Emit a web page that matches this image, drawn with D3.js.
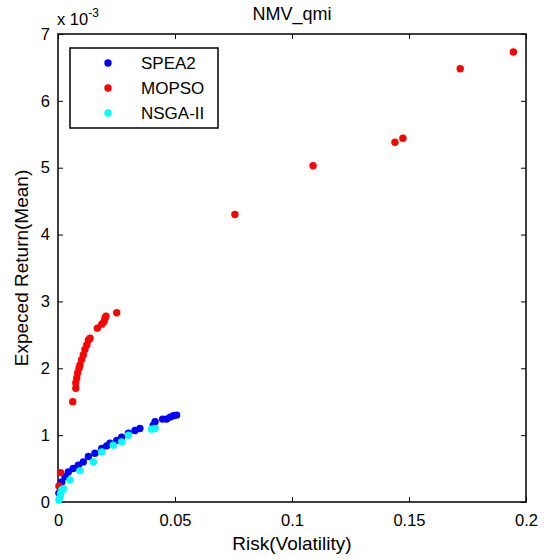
<!DOCTYPE html>
<html>
<head>
<meta charset="utf-8">
<script src="https://cdn.jsdelivr.net/npm/d3@7"></script>
<style>
  html, body { margin: 0; padding: 0; background: #fff; overflow: hidden; }
  svg { display: block; }
  text { font-family: "Liberation Sans", Arial, sans-serif; fill: #000; }
</style>
</head>
<body>
<svg></svg>
<script>
const w = 544
const h = 559

// data (risk, return*1e3)
const spea2X = [0.0004, 0.0009, 0.0016, 0.0030, 0.0044, 0.0065, 0.0087, 0.0108, 0.0130, 0.0158, 0.0187, 0.0208, 0.0222, 0.0251, 0.0272, 0.0301, 0.0329, 0.0350, 0.0407, 0.0415, 0.0447, 0.0464, 0.0479, 0.0493, 0.0507]
const spea2Y = [0.13, 0.23, 0.30, 0.38, 0.45, 0.50, 0.55, 0.60, 0.68, 0.73, 0.80, 0.84, 0.88, 0.92, 0.97, 1.03, 1.07, 1.10, 1.15, 1.20, 1.24, 1.24, 1.27, 1.29, 1.30]
const mopsoX = [0.0004, 0.0011, 0.0063, 0.0076, 0.0076, 0.0080, 0.0084, 0.0090, 0.0094, 0.0101, 0.0108, 0.0115, 0.0123, 0.0130, 0.0137, 0.0168, 0.0187, 0.0197, 0.0201, 0.0205, 0.0251, 0.0756, 0.1090, 0.1440, 0.1474, 0.1719, 0.1946]
const mopsoY = [0.24, 0.44, 1.50, 1.70, 1.78, 1.85, 1.93, 2.00, 2.05, 2.13, 2.20, 2.28, 2.35, 2.42, 2.45, 2.60, 2.66, 2.70, 2.75, 2.78, 2.83, 4.30, 5.03, 5.38, 5.44, 6.48, 6.73]
const nsgaX = [0.0004, 0.0009, 0.0011, 0.0016, 0.0023, 0.0051, 0.0094, 0.0151, 0.0187, 0.0236, 0.0272, 0.0301, 0.0400, 0.0415]
const nsgaY = [0.03, 0.08, 0.13, 0.18, 0.20, 0.33, 0.47, 0.60, 0.75, 0.85, 0.90, 1.00, 1.09, 1.10]

const xTicks = [0, 0.05, 0.1, 0.15, 0.2]
const yTicks = [0, 1, 2, 3, 4, 5, 6, 7]

const series = [
  { name: 'SPEA2', color: '#0000ff', xs: spea2X, ys: spea2Y },
  { name: 'MOPSO', color: '#ff0000', xs: mopsoX, ys: mopsoY },
  { name: 'NSGA-II', color: '#00ffff', xs: nsgaX, ys: nsgaY }
]

const svg = d3.select('svg')
  .attr('width', w)
  .attr('height', h);

const margin = { top: 34, right: 18, bottom: 57, left: 58 };
const innerWidth = w - margin.left - margin.right;
const innerHeight = h - margin.top - margin.bottom;

const xScale = d3.scaleLinear()
  .domain([0, 0.2])
  .range([0, innerWidth])

const yScale = d3.scaleLinear()
  .domain([0, 7])
  .range([innerHeight, 0])

const g = svg.append('g')
  .attr('transform', `translate(${margin.left}, ${margin.top})`);

// frame
g.append('rect')
  .attr('width', innerWidth)
  .attr('height', innerHeight)
  .attr('fill', 'none')
  .attr('stroke', '#000')
  .attr('stroke-width', 1.5)

const styleAxis = sel => {
  sel.select('.domain').remove()
  sel.selectAll('line').attr('stroke', '#000')
  sel.selectAll('text').attr('font-size', 16.5)
}

// bottom & left axes, ticks inward
g.append('g')
  .attr('transform', `translate(0, ${innerHeight})`)
  .call(d3.axisBottom(xScale).tickValues(xTicks).tickSizeInner(-5).tickSizeOuter(0).tickPadding(12).tickFormat(d3.format('')))
  .call(styleAxis)

g.append('g')
  .call(d3.axisLeft(yScale).tickValues(yTicks).tickSizeInner(-5).tickSizeOuter(0).tickPadding(8).tickFormat(d3.format('d')))
  .call(styleAxis)

// top & right ticks, no labels
g.append('g')
  .call(d3.axisTop(xScale).tickValues(xTicks).tickSizeInner(-5).tickSizeOuter(0))
  .call(styleAxis)
  .call(a => a.selectAll('text').remove())

g.append('g')
  .attr('transform', `translate(${innerWidth}, 0)`)
  .call(d3.axisRight(yScale).tickValues(yTicks).tickSizeInner(-5).tickSizeOuter(0))
  .call(styleAxis)
  .call(a => a.selectAll('text').remove())

// points
series.forEach(s => {
  const pts = s.xs.map((x, i) => ({ x: x, y: s.ys[i] }))
  g.append('g').selectAll('circle').data(pts)
    .enter().append('circle')
    .attr('cx', d => xScale(d.x))
    .attr('cy', d => yScale(d.y))
    .attr('r', 3.7)
    .attr('fill', s.color)
})

// exponent label
const expo = svg.append('text')
  .attr('x', 57)
  .attr('y', 25)
  .attr('font-size', 16.5)
expo.append('tspan').text('x 10')
expo.append('tspan').text('-3').attr('font-size', 12).attr('dy', -8)

// title
svg.append('text')
  .attr('x', margin.left + innerWidth / 2)
  .attr('y', 20)
  .attr('text-anchor', 'middle')
  .attr('font-size', 18)
  .text('NMV_qmi')

// axis labels
svg.append('text')
  .attr('x', margin.left + innerWidth / 2)
  .attr('y', 550)
  .attr('text-anchor', 'middle')
  .attr('font-size', 19)
  .text('Risk(Volatility)')

svg.append('text')
  .attr('transform', `translate(28, ${margin.top + innerHeight / 2}) rotate(-90)`)
  .attr('text-anchor', 'middle')
  .attr('font-size', 19)
  .text('Expeced Return(Mean)')

// legend
const legend = svg.append('g').attr('transform', 'translate(70, 48)')
legend.append('rect')
  .attr('width', 148)
  .attr('height', 80)
  .attr('fill', '#fff')
  .attr('stroke', '#000')
  .attr('stroke-width', 1.5)

series.forEach((s, i) => {
  const row = legend.append('g').attr('transform', `translate(0, ${15 + i * 25})`)
  row.append('circle').attr('cx', 38).attr('cy', 0).attr('r', 3.7).attr('fill', s.color)
  row.append('text').attr('x', 71).attr('y', 6).attr('font-size', 17).text(s.name)
})
</script>
</body>
</html>
